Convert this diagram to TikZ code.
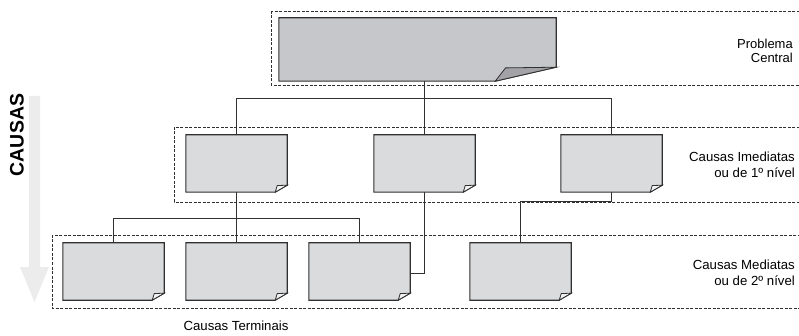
\documentclass[tikz,border=0pt]{standalone}
\usepackage{fontspec}
\setmainfont{Liberation Sans}
\definecolor{topfill}{HTML}{C6C7CB}
\definecolor{topfold}{HTML}{A3A3A7}
\definecolor{cardfill}{HTML}{D9DBDC}
\definecolor{cardfold}{HTML}{F2F2F2}
\definecolor{linecol}{HTML}{303030}
\definecolor{arrowgray}{HTML}{ECECEC}
\tikzset{
  card/.style={draw=none,inner sep=0pt,minimum width=101pt,minimum height=57pt},
  topcard/.style={draw=none,inner sep=0pt,minimum width=277pt,minimum height=63pt},
  cardline/.style={draw=linecol,line width=1.1pt,line join=miter},
  conn/.style={draw=linecol,line width=0.9pt},
  levelbox/.style={draw=linecol,line width=0.7pt,dash pattern=on 3pt off 1.5pt},
  lbl/.style={font=\fontsize{13.2}{16}\selectfont,align=right,anchor=east,inner sep=0pt},
}
\newcommand{\foldcard}[5]{%
  \path[fill=#4,cardline] (#1.north west) -- (#1.north east) -- ([yshift=#3]#1.south east) -- ([xshift=-#2]#1.south east) -- (#1.south west) -- cycle;
  \path[fill=#5,cardline,line width=0.8pt] ([yshift=#3]#1.south east) -- ([xshift=-0.83*#2,yshift=0.95*#3]#1.south east) -- ([xshift=-#2]#1.south east) -- cycle;
}
\begin{document}
\begin{tikzpicture}[x=1pt,y=-1pt]
\useasboundingbox (0,0) rectangle (799,336);
\begin{scope}
\clip (0,0) rectangle (799,336);
% level boxes
\draw[levelbox] (271,11) rectangle (810,85);
\draw[levelbox] (174,127) rectangle (810,202);
\draw[levelbox] (52,235) rectangle (810,308);
\end{scope}
% arrow
\fill[arrowgray] (29,96) -- (40,96) -- (40,267) -- (49,267) -- (34.5,302) -- (20,267) -- (29,267) -- cycle;
\node[rotate=90,font=\fontsize{19.5}{19.5}\selectfont\bfseries,inner sep=0pt] (causas) at (17,135) {CAUSAS};
% cards
\node[topcard] (top) at (417.5,49.5) {};
\node[card] (m1) at (236.5,163.5) {};
\node[card] (m2) at (424.5,163.5) {};
\node[card] (m3) at (611.5,163.5) {};
\node[card] (b1) at (113.5,271.5) {};
\node[card] (b2) at (236.5,271.5) {};
\node[card] (b3) at (359.5,271.5) {};
\node[card] (b4) at (520.5,271.5) {};
% connectors
\coordinate (r1) at (0,98);
\coordinate (r2) at (0,218);
\coordinate (r3) at (0,273);
\coordinate (r4) at (0,201);
\draw[conn] (m2.north |- top.south) -- (m2.north);
\draw[conn] (m1.north) -- (m1.north |- r1) -- (m3.north |- r1) -- (m3.north);
\draw[conn] (m1.south) -- (b2.north);
\draw[conn] (b1.north) -- (b1.north |- r2) -- (b3.north |- r2) -- (b3.north);
\draw[conn] (m2.south) -- (m2.south |- r3) -- (b3.east |- r3);
\draw[conn] (m3.south) -- (m3.south |- r4) -- (b4.north |- r4) -- (b4.north);
% card shapes
\foldcard{top}{61pt}{14pt}{topfill}{topfold}
\foldcard{m1}{12pt}{7pt}{cardfill}{cardfold}
\foldcard{m2}{12pt}{7pt}{cardfill}{cardfold}
\foldcard{m3}{12pt}{7pt}{cardfill}{cardfold}
\foldcard{b1}{12pt}{7pt}{cardfill}{cardfold}
\foldcard{b2}{12pt}{7pt}{cardfill}{cardfold}
\foldcard{b3}{12pt}{7pt}{cardfill}{cardfold}
\foldcard{b4}{12pt}{7pt}{cardfill}{cardfold}
% labels
\node[lbl,font=\fontsize{13}{14}\selectfont] (l0) at (793,50.5) {Problema\\Central};
\node[lbl] (l1) at (795,165) {Causas Imediatas\\ou de 1º nível};
\node[lbl] (l2) at (795,273) {Causas Mediatas\\ou de 2º nível};
\node[font=\fontsize{13.2}{16}\selectfont,inner sep=0pt] (l3) at (236,326) {Causas Terminais};
\end{tikzpicture}
\end{document}
